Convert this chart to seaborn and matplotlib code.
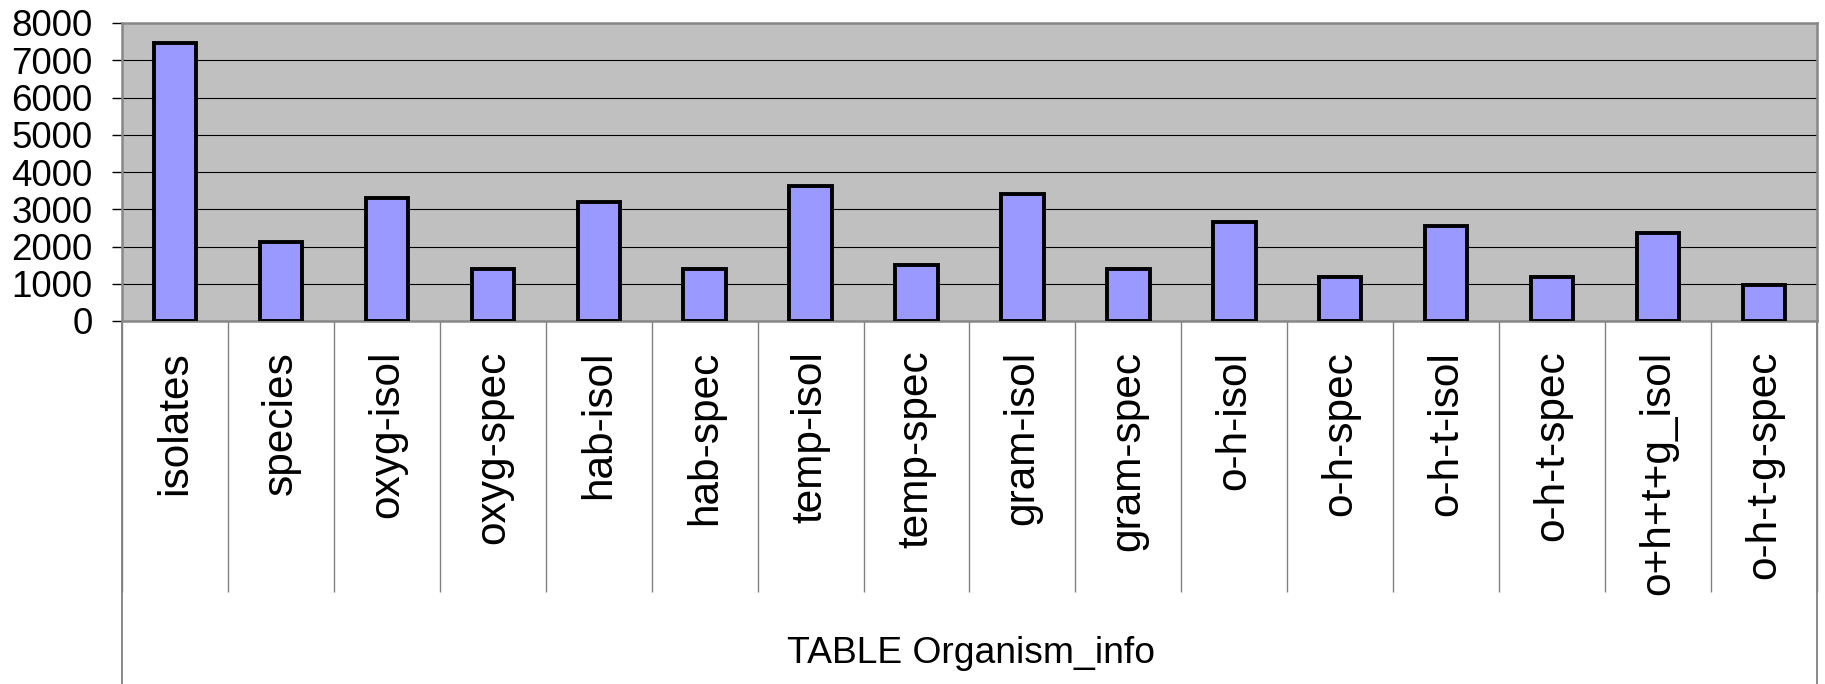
import numpy as np
import pandas as pd
import matplotlib
matplotlib.use("Agg")
import matplotlib.pyplot as plt
import seaborn as sns

# Record counts per view of the organism table
categories = [
    "isolates", "species", "oxyg-isol", "oxyg-spec", "hab-isol", "hab-spec",
    "temp-isol", "temp-spec", "gram-isol", "gram-spec", "o-h-isol", "o-h-spec",
    "o-h-t-isol", "o-h-t-spec", "o+h+t+g_isol", "o-h-t-g-spec",
]
counts = [7460, 2120, 3300, 1390, 3200, 1390, 3630, 1490, 3410, 1390,
          2670, 1180, 2550, 1180, 2350, 960]
y_ticks = [0, 1000, 2000, 3000, 4000, 5000, 6000, 7000, 8000]
group_label = "TABLE Organism_info"

sns.set_theme(style="white")
plt.rcParams["font.family"] = ["Liberation Sans", "DejaVu Sans"]
plt.rcParams["text.color"] = "black"
plt.rcParams["xtick.color"] = "black"
plt.rcParams["ytick.color"] = "black"

df = pd.DataFrame({"view": categories, "count": counts})

fig = plt.figure(figsize=(18.25, 6.84), dpi=100)
ax = fig.add_axes([122 / 1825, 1 - 321 / 684, (1817 - 122) / 1825, (321 - 23) / 684])
ax.set_facecolor("#C0C0C0")

sns.barplot(data=df, x="view", y="count", color="#9999FF", saturation=1,
            width=0.4, edgecolor="black", linewidth=2.8, ax=ax, zorder=3)

n = len(categories)
ax.set_xlim(-0.5, n - 0.5)
ax.set_ylim(y_ticks[0], y_ticks[-1])
ax.set_yticks(y_ticks)
ax.set_yticklabels([str(v) for v in y_ticks], fontsize=26.5, color="black")
ax.yaxis.grid(True, color="black", linewidth=0.8)
ax.set_axisbelow(True)

# Category labels hang below the axis, separated by long divider ticks
ax.set_xticks(range(n))
ax.set_xticklabels(categories, rotation=90, fontsize=30.5, va="top", ha="center",
                   color="black")
ax.tick_params(axis="x", which="major", length=0, pad=21.5)
ax.set_xticks(np.arange(n + 1) - 0.5, minor=True)
ax.tick_params(axis="x", which="minor", bottom=True, direction="out",
               length=195, width=1.0, color="#808080")
ax.tick_params(axis="y", which="major", left=True, direction="out",
               length=7, width=1.0, color="black", pad=14)

# Outer frame of the category table reaches the bottom edge
ext = -(684 - 321) / 298
for xb in (-0.5, n - 0.5):
    ax.axvline(xb, ymin=ext, ymax=0, color="#808080", linewidth=1.3, clip_on=False)

ax.text((971 - 122) / 1695, (321 - 663) / 298, group_label, transform=ax.transAxes,
        ha="center", va="baseline", fontsize=26.8, color="black")

for side in ("left", "right", "top", "bottom"):
    ax.spines[side].set_visible(True)
    ax.spines[side].set_color("#888888")
    ax.spines[side].set_linewidth(1.8)

ax.set_xlabel("")
ax.set_ylabel("")

fig.savefig("out.png", dpi=100, facecolor="white")
